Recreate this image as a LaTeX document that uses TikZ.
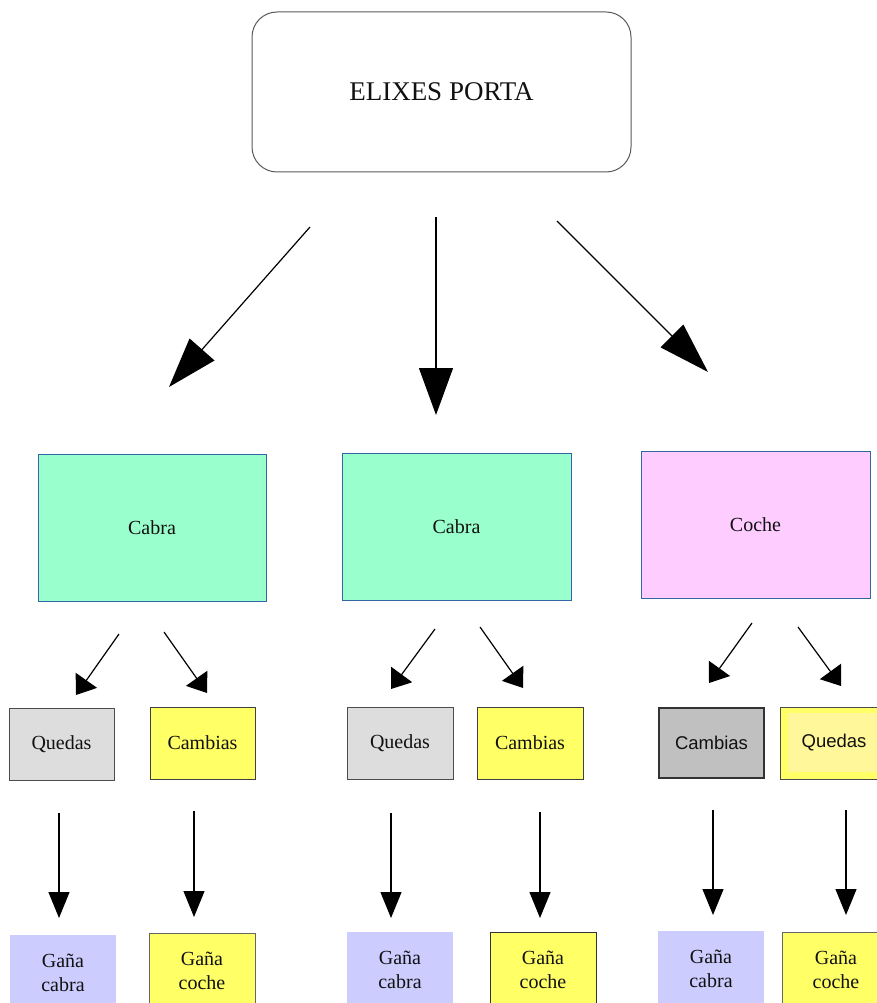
\documentclass[tikz,border=0pt]{standalone}
\usepackage{fontspec}
\setmainfont{Liberation Serif}
\newfontfamily\sansf{Liberation Sans}
\usetikzlibrary{arrows.meta}
\definecolor{mint}{HTML}{99FFCC}
\definecolor{pinkc}{HTML}{FFCCFF}
\definecolor{bordblue}{HTML}{3465A4}
\definecolor{grayq}{HTML}{DDDDDD}
\definecolor{yellowc}{HTML}{FFFF66}
\definecolor{paleyellow}{HTML}{FFF799}
\definecolor{lavender}{HTML}{CCCCFF}
\definecolor{grayc}{HTML}{C0C0C0}
\definecolor{txt}{HTML}{111111}
\tikzset{
  box/.style={rectangle, inner sep=0pt, outer sep=0pt, text=txt, align=center},
  midbox/.style={box, draw=bordblue, line width=0.9pt, minimum width=228pt, minimum height=147pt, font=\fontsize{20}{24}\selectfont},
  smallbox/.style={box, line width=0.9pt, minimum width=105pt, minimum height=72pt, font=\fontsize{20}{24}\selectfont},
  botbox/.style={box, minimum width=106pt, minimum height=75pt, font=\fontsize{20}{24}\selectfont},
  bigarrow/.style={line width=1.2pt, -{Triangle[length=50pt,width=33pt]}},
  diagarrow/.style={line width=1.2pt, -{Triangle[length=18pt,width=26pt]}},
  vertarrow/.style={line width=1.2pt, -{Triangle[length=26pt,width=21pt]}},
}
\begin{document}
\begin{tikzpicture}[x=1pt,y=-1pt]
\useasboundingbox (0,0) rectangle (877,1003);
% top
\node[box, draw=black!65, line width=1pt, rounded corners=25pt, minimum width=379pt, minimum height=160pt, font=\fontsize{27}{32}\selectfont] (top) at (441.5,92) {ELIXES PORTA};
% middle
\node[midbox, fill=mint] (cabra1) at (152,527.5) {Cabra};
\node[midbox, fill=mint, minimum width=229pt] (cabra2) at (456.5,526.5) {Cabra};
\node[midbox, fill=pinkc, minimum width=229pt] (coche) at (755.5,524.5) {Coche};
% third level
\node[smallbox, fill=grayq, draw=black!70] (quedas1) at (61.5,744) {Quedas};
\node[smallbox, fill=yellowc, draw=black!75] (cambias1) at (202.5,743) {Cambias};
\node[smallbox, fill=grayq, draw=black!70, minimum width=106pt] (quedas2) at (400,743) {Quedas};
\node[smallbox, fill=yellowc, draw=black!75, minimum width=106pt] (cambias2) at (530,743) {Cambias};
\node[smallbox, fill=grayc, draw=black!80, line width=2pt, minimum height=70pt, font=\sansf\fontsize{18.5}{22}\selectfont] (cambias3) at (711.5,742.5) {Cambias};
\node[smallbox, fill=yellowc, draw=black!70, minimum width=108pt, font=\sansf\fontsize{18.5}{22}\selectfont] (quedas3o) at (834,743) {};
\node[box, fill=paleyellow, minimum width=92pt, minimum height=59pt] (quedas3i) at (834,742.5) {};
\node[box, font=\sansf\fontsize{18.5}{22}\selectfont] (quedas3) at (834,742.5) {Quedas};
% bottom
\node[botbox, fill=lavender] (gc1) at (63,972.5) {Gaña\\cabra};
\node[botbox, fill=yellowc, draw=black!60, line width=0.8pt] (gco1) at (202,970.5) {Gaña\\coche};
\node[botbox, fill=lavender] (gc2) at (400,969.5) {Gaña\\cabra};
\node[botbox, fill=yellowc, draw=black!80, line width=0.8pt] (gco2) at (543,969.5) {Gaña\\coche};
\node[botbox, fill=lavender] (gc3) at (711,968.5) {Gaña\\cabra};
\node[botbox, fill=yellowc, draw=black!60, line width=0.8pt, minimum width=108pt] (gco3) at (836,969.5) {Gaña\\coche};
% arrow endpoints
\coordinate (a1s) at (310,227); \coordinate (a1e) at (169,387);
\coordinate (a2s) at (436,217); \coordinate (a2e) at (436,415);
\coordinate (a3s) at (557,221); \coordinate (a3e) at (708,372);
\draw[bigarrow] (a1s) -- (a1e);
\draw[bigarrow, -{Triangle[length=47pt,width=34pt]}] (a2s) -- (a2e);
\draw[bigarrow, -{Triangle[length=51pt,width=32pt]}] (a3s) -- (a3e);
% diagonal small
\coordinate (b1s) at (119,634); \coordinate (b1e) at (76,695);
\coordinate (b2s) at (164,632); \coordinate (b2e) at (207,693);
\coordinate (b3s) at (435,629); \coordinate (b3e) at (391,689);
\coordinate (b4s) at (480,627); \coordinate (b4e) at (523,688);
\coordinate (b5s) at (752,623); \coordinate (b5e) at (709,683);
\coordinate (b6s) at (798,627); \coordinate (b6e) at (841,686);
\foreach \i in {1,...,6} {\draw[diagarrow] (b\i s) -- (b\i e);}
% vertical
\coordinate (c1s) at (59,813); \coordinate (c1e) at (59,918);
\coordinate (c2s) at (194,811); \coordinate (c2e) at (194,917);
\coordinate (c3s) at (391,813); \coordinate (c3e) at (391,918);
\coordinate (c4s) at (540,812); \coordinate (c4e) at (540,918);
\coordinate (c5s) at (713,810); \coordinate (c5e) at (713,915);
\coordinate (c6s) at (846,810); \coordinate (c6e) at (846,915);
\foreach \i in {1,...,6} {\draw[vertarrow] (c\i s) -- (c\i e);}
\end{tikzpicture}
\end{document}
